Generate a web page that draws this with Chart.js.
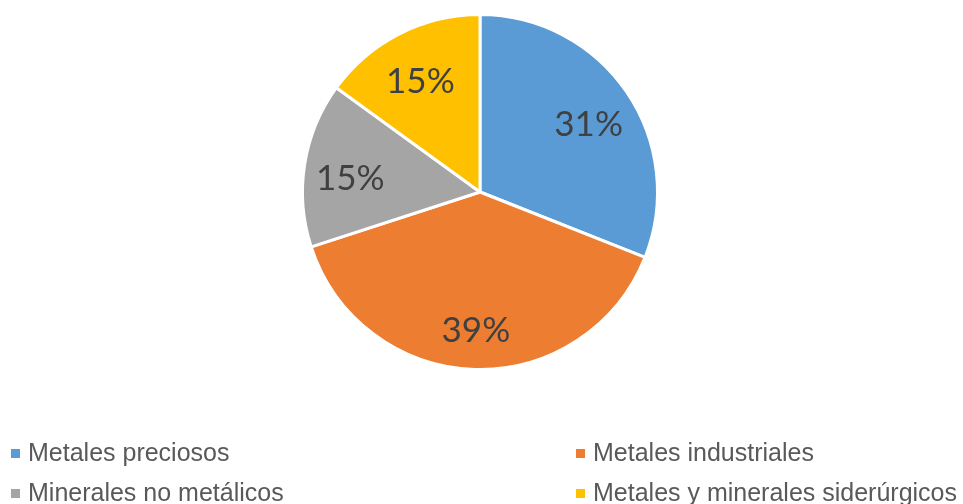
<!DOCTYPE html>
<html>
<head>
<meta charset="utf-8">
<script src="https://cdn.jsdelivr.net/npm/chart.js@4.4.0/dist/chart.umd.min.js"></script>
<style>
  html, body { margin: 0; padding: 0; background: #fff; }
  #wrap { width: 963px; height: 504px; position: relative; }
</style>
</head>
<body>
<div id="wrap"><canvas id="pieChart" width="963" height="504"></canvas></div>
<script>
const categories = ['Metales preciosos', 'Metales industriales', 'Minerales no metálicos', 'Metales y minerales siderúrgicos'];
const shares = [31, 39, 15, 15];
const colors = ['#5B9BD5', '#ED7D31', '#A5A5A5', '#FFC000'];

// percent labels inside the slices
const sliceLabels = {
  id: 'sliceLabels',
  afterDatasetsDraw(chart) {
    const ctx = chart.ctx;
    const meta = chart.getDatasetMeta(0);
    ctx.save();
    ctx.font = '35px Lato';
    ctx.fillStyle = '#404040';
    ctx.textAlign = 'center';
    ctx.textBaseline = 'middle';
    meta.data.forEach((arc, i) => {
      const p = arc.getProps(['x', 'y', 'startAngle', 'endAngle', 'outerRadius'], true);
      const mid = (p.startAngle + p.endAngle) / 2;
      const r = p.outerRadius * 0.74;
      // digits sit a bit high with 'middle', push them down
      ctx.fillText(shares[i] + '%', p.x + Math.cos(mid) * r, p.y + Math.sin(mid) * r + 7);
    });
    ctx.restore();
  }
};

// legend in two columns, like the original
const gridLegend = {
  id: 'gridLegend',
  afterDraw(chart) {
    const ctx = chart.ctx;
    ctx.save();
    ctx.font = '25px "Liberation Sans", Arial';
    ctx.textBaseline = 'middle';
    ctx.textAlign = 'left';
    const cols = [11, 576];
    const rows = [454, 494];
    categories.forEach((name, i) => {
      const x = cols[i % 2];
      const y = rows[Math.floor(i / 2)];
      ctx.fillStyle = colors[i];
      ctx.fillRect(x, y - 5, 9, 9);
      ctx.fillStyle = '#595959';
      ctx.fillText(name, x + 17, y);
    });
    ctx.restore();
  }
};

new Chart(document.getElementById('pieChart'), {
  type: 'pie',
  data: {
    labels: categories,
    datasets: [
      {
        data: shares,
        backgroundColor: colors,
        borderColor: '#ffffff',
        borderWidth: 3,
      },
    ],
  },
  options: {
    responsive: false,
    animation: false,
    devicePixelRatio: 1,
    layout: { padding: { top: 13, bottom: 133, left: 0, right: 3 } },
    plugins: {
      legend: { display: false },
      tooltip: { enabled: false },
    },
  },
  plugins: [sliceLabels, gridLegend],
});
</script>
</body>
</html>
